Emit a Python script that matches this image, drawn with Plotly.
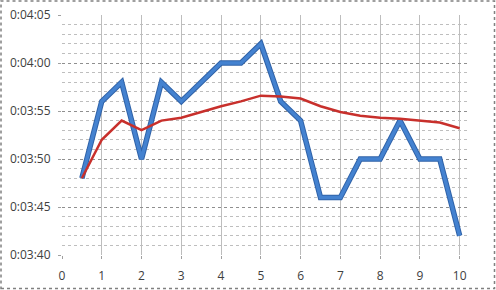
import plotly.graph_objects as go

x_vals = [0.5, 1, 1.5, 2, 2.5, 3, 3.5, 4, 4.5, 5, 5.5, 6, 6.5, 7, 7.5, 8, 8.5, 9, 9.5, 10]
# seconds (3:48 -> 228 ...)
blue_secs = [228, 236, 238, 230, 238, 236, 238, 240, 240, 242, 236, 234, 226, 226, 230, 230, 234, 230, 230, 222]
red_secs = [228, 232, 234, 233, 234, 234.3, 234.9, 235.5, 236, 236.6, 236.5, 236.3, 235.5, 234.9, 234.5, 234.3, 234.2, 234.0, 233.8, 233.2]

y_tickvals = [220, 225, 230, 235, 240, 245]
y_ticktext = ["0:03:40", "0:03:45", "0:03:50", "0:03:55", "0:04:00", "0:04:05"]
x_tickvals = [0, 1, 2, 3, 4, 5, 6, 7, 8, 9, 10]
x_ticktext = ["0", "1", "2", "3", "4", "5", "6", "7", "8", "9", "10"]

fig = go.Figure()
fig.add_trace(go.Scatter(x=x_vals, y=blue_secs, mode="lines",
                         line=dict(color="#2F62A8", width=5.5), showlegend=False,
                         hoverinfo="skip"))
fig.add_trace(go.Scatter(x=x_vals, y=blue_secs, mode="lines",
                         line=dict(color="#4482D0", width=3.5), showlegend=False))
fig.add_trace(go.Scatter(x=x_vals, y=red_secs, mode="lines",
                         line=dict(color="#C8302C", width=2.5), showlegend=False))

L, R, T, B = 62, 28, 15, 35
W, H = 496 - L - R, 290 - T - B

def px_x(p):
    return (p - L) / W

def px_y(p):
    return (290 - B - p) / H

fig.add_shape(type="rect", xref="paper", yref="paper",
              x0=px_x(1), x1=px_x(494.5), y0=px_y(288.5), y1=px_y(1),
              line=dict(color="#808080", width=1.5, dash="dot"), layer="above")

fig.update_layout(
    width=496, height=290,
    margin=dict(l=L, r=R, t=T, b=B),
    paper_bgcolor="white", plot_bgcolor="white",
    font=dict(family="Open Sans", size=12, color="#404040"),
    xaxis=dict(range=[0, 10.21], tickvals=x_tickvals, ticktext=x_ticktext,
               showgrid=True, gridcolor="#BDBDBD", gridwidth=1.3,
               zeroline=False, showline=False, automargin=False,
               ticks="outside", ticklen=3, tickcolor="#A0A0A0",
               ticklabelstandoff=7),
    yaxis=dict(range=[220, 245], tickvals=y_tickvals, ticktext=y_ticktext,
               showgrid=True, gridcolor="#8F8F8F", gridwidth=1, griddash="dot",
               zeroline=False, showline=False, automargin=False,
               ticks="outside", ticklen=3, tickcolor="#A0A0A0",
               ticklabelstandoff=5,
               minor=dict(dtick=1, showgrid=True, gridcolor="#BEBEBE", griddash="dot",
                          gridwidth=1)),
)

fig.write_html("out.html")
